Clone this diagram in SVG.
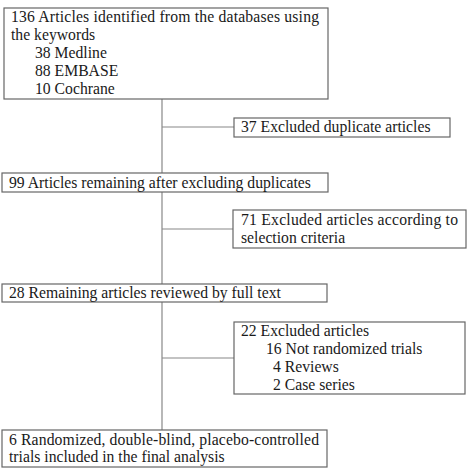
<svg xmlns="http://www.w3.org/2000/svg" width="469" height="469" viewBox="0 0 469 469">
<style>
.box{fill:#fff;stroke:#666;stroke-width:1.2}
.c{fill:none;stroke:#888;stroke-width:1.2}
text{font-family:"Liberation Serif","Times New Roman",serif;font-size:15.7px;fill:#1a1a1a}
</style>
<rect width="469" height="469" fill="#fff"/>
<g id="connectors">
<line class="c" x1="162" y1="99" x2="162" y2="173"/>
<line class="c" x1="162" y1="127" x2="234" y2="127"/>
<line class="c" x1="162" y1="192" x2="162" y2="284"/>
<line class="c" x1="162" y1="229" x2="233" y2="229"/>
<line class="c" x1="162" y1="302" x2="162" y2="430"/>
<line class="c" x1="162" y1="358" x2="234" y2="358"/>
</g>
<g id="n1">
<rect class="box" x="4" y="8" width="324" height="91"/>
<text x="11" y="22" textLength="308">136 Articles identified from the databases using</text>
<text x="11" y="40">the keywords</text>
<text x="35" y="58">38 Medline</text>
<text x="35" y="76">88 EMBASE</text>
<text x="35" y="94">10 Cochrane</text>
</g>
<g id="n2">
<rect class="box" x="234" y="118" width="216" height="19"/>
<text x="241" y="132">37 Excluded duplicate articles</text>
</g>
<g id="n3">
<rect class="box" x="2" y="173" width="326" height="19"/>
<text x="9" y="188">99 Articles remaining after excluding duplicates</text>
</g>
<g id="n4">
<rect class="box" x="233" y="210" width="233" height="38"/>
<text x="241" y="225" textLength="217">71 Excluded articles according to</text>
<text x="241" y="243">selection criteria</text>
</g>
<g id="n5">
<rect class="box" x="2" y="284" width="325" height="18"/>
<text x="9" y="298">28 Remaining articles reviewed by full text</text>
</g>
<g id="n6">
<rect class="box" x="234" y="322" width="231" height="72"/>
<text x="241" y="336">22 Excluded articles</text>
<text x="266" y="354">16 Not randomized trials</text>
<text x="273" y="372">4 Reviews</text>
<text x="273" y="390">2 Case series</text>
</g>
<g id="n7">
<rect class="box" x="2" y="430" width="325" height="37"/>
<text x="9" y="445" textLength="310">6 Randomized, double-blind, placebo-controlled</text>
<text x="9" y="462">trials included in the final analysis</text>
</g>
</svg>
